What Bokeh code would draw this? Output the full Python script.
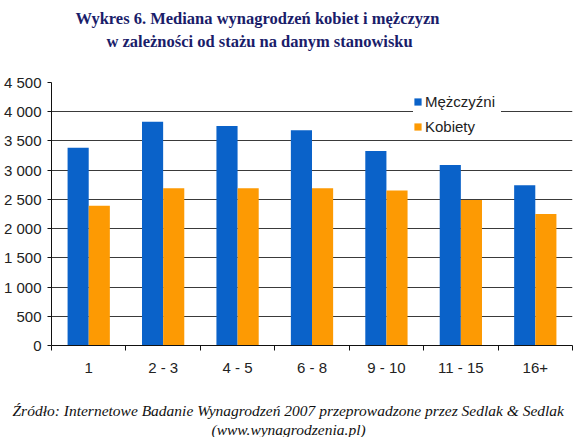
from bokeh.plotting import figure
from bokeh.models import (ColumnDataSource, FixedTicker, Legend, LegendItem, Title, Range1d)
from bokeh.transform import dodge
from bokeh.embed import file_html
from bokeh.resources import INLINE

# ---- data ----
categories = ["1", "2 - 3", "4 - 5", "6 - 8", "9 - 10", "11 - 15", "16+"]
men = [3385, 3830, 3755, 3685, 3330, 3090, 2740]
women = [2390, 2690, 2690, 2690, 2650, 2490, 2250]
y_ticks = [0, 500, 1000, 1500, 2000, 2500, 3000, 3500, 4000, 4500]
y_tick_labels = ["0", "500", "1 000", "1 500", "2 000", "2 500", "3 000", "3 500", "4 000", "4 500"]
series_names = ["Mężczyźni", "Kobiety"]
title_lines = ["Wykres 6. Mediana wynagrodzeń kobiet i mężczyzn",
               "w zależności od stażu na danym stanowisku"]
source_lines = ["Źródło: Internetowe Badanie Wynagrodzeń 2007 przeprowadzone przez Sedlak & Sedlak",
                "(www.wynagrodzenia.pl)"]

BLUE = "#0a62c9"
ORANGE = "#fd9a03"
TXT = "#222222"
NAVY = "#1a1d6a"

n = len(categories)
pos = [i + 0.5 for i in range(n)]
src = ColumnDataSource(dict(x=pos, men=men, women=women, cat=categories))

p = figure(width=580, height=437, output_backend="svg", toolbar_location=None,
           x_range=Range1d(0, n), y_range=Range1d(0, 4500), title=None,
           min_border_left=0, min_border_right=8, min_border_top=82, min_border_bottom=91)
p.outline_line_color = None
p.background_fill_color = "white"

bw = 0.284
r1 = p.vbar(x=dodge("x", -bw / 2, range=p.x_range), top="men", width=bw, source=src,
            fill_color=BLUE, line_color=None)
r2 = p.vbar(x=dodge("x", bw / 2, range=p.x_range), top="women", width=bw, source=src,
            fill_color=ORANGE, line_color=None)

# axes
p.xgrid.grid_line_color = None
p.ygrid.grid_line_color = "#3a3a3a"
p.ygrid.grid_line_width = 1
p.ygrid.ticker = FixedTicker(ticks=y_ticks)

p.yaxis.ticker = FixedTicker(ticks=y_ticks)
p.yaxis.major_label_overrides = {t: l for t, l in zip(y_ticks, y_tick_labels)}
p.yaxis.major_tick_out = 4
p.yaxis.major_tick_in = 0
p.yaxis.minor_tick_out = 0
p.yaxis.minor_tick_in = 0
p.yaxis.major_label_standoff = 6
p.yaxis.axis_line_color = "#111111"
p.yaxis.major_tick_line_color = "#111111"

p.xaxis.ticker = FixedTicker(ticks=pos, minor_ticks=list(range(n + 1)))
p.xaxis.major_label_overrides = {x: c for x, c in zip(pos, categories)}
p.xaxis.major_tick_out = 0
p.xaxis.major_tick_in = 0
p.xaxis.minor_tick_out = 5
p.xaxis.minor_tick_in = 0
p.xaxis.minor_tick_line_color = "#111111"
p.xaxis.major_label_standoff = 8
p.xaxis.axis_line_color = "#111111"

for ax in (p.xaxis[0], p.yaxis[0]):
    ax.major_label_text_font = "Liberation Sans"
    ax.major_label_text_font_size = "15px"
    ax.major_label_text_color = TXT

legend = Legend(items=[LegendItem(label=series_names[0], renderers=[r1]),
                       LegendItem(label=series_names[1], renderers=[r2])],
                location=(362, 210), orientation="vertical")
legend.label_text_font = "Liberation Sans"
legend.label_text_font_size = "15px"
legend.label_text_color = TXT
legend.glyph_width = 9
legend.glyph_height = 9
legend.label_height = 16
legend.label_width = 76
legend.spacing = 8
legend.padding = 6
legend.margin = 0
legend.label_standoff = 3
legend.border_line_color = None
legend.background_fill_color = "white"
legend.background_fill_alpha = 1
p.add_layout(legend, "center")

# ---- titles: panels stack outward from the frame ----
top_spacer = Title(text=" ", text_font_size="2px", standoff=26)
t2 = Title(text=title_lines[1], align="left", offset=55, text_font="Liberation Serif",
           text_font_style="bold", text_font_size="16.5px", text_color=NAVY, standoff=4)
t1 = Title(text=title_lines[0], align="left", offset=24, text_font="Liberation Serif",
           text_font_style="bold", text_font_size="16.5px", text_color=NAVY, standoff=0)
p.add_layout(top_spacer, "above")
p.add_layout(t2, "above")
p.add_layout(t1, "above")

bottom_spacer = Title(text=" ", text_font_size="2px", standoff=17)
f1 = Title(text=source_lines[0], align="left", offset=-39, text_font="Liberation Serif",
           text_font_style="italic", text_font_size="15.5px", text_color="#111111", standoff=0)
f2 = Title(text=source_lines[1], align="left", offset=160, text_font="Liberation Serif",
           text_font_style="italic", text_font_size="15.5px", text_color="#111111", standoff=0)
p.add_layout(bottom_spacer, "below")
p.add_layout(f1, "below")
p.add_layout(f2, "below")

open("out.html", "w").write(file_html(p, INLINE))
